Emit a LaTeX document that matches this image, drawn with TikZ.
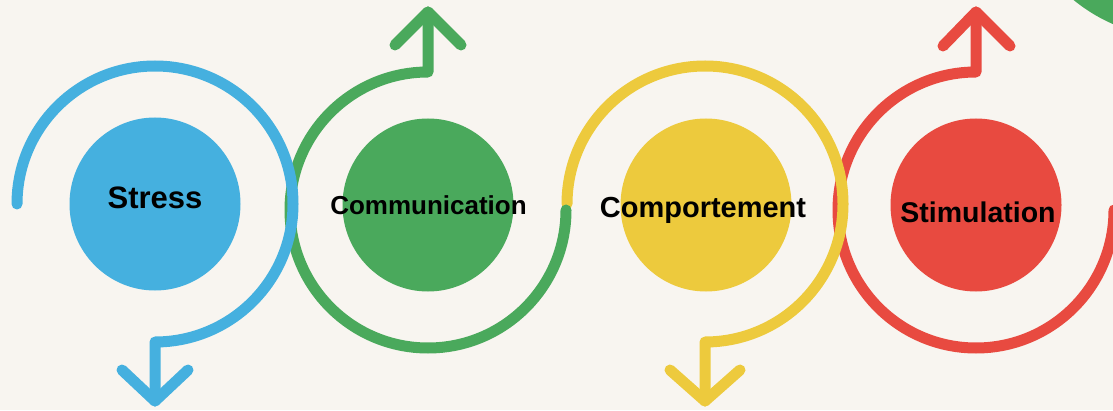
\documentclass[tikz,border=0pt]{standalone}
\usepackage{fontspec}
\setmainfont{Liberation Sans}
\usetikzlibrary{shapes.geometric}
\definecolor{bg}{HTML}{F8F5F0}
\definecolor{cblue}{HTML}{45B0DF}
\definecolor{cgreen}{HTML}{4AA95C}
\definecolor{cyellow}{HTML}{EDCA3D}
\definecolor{cred}{HTML}{E84A40}
\tikzset{
  arcline/.style={line width=11pt, line cap=round, line join=round},
  blob/.style={ellipse, draw=none, inner sep=0pt, minimum width=171pt, minimum height=173pt},
  lbl/.style={anchor=base, inner sep=0pt, font=\bfseries}
}
\begin{document}
\begin{tikzpicture}[x=1pt,y=1pt]
\useasboundingbox (0,0) rectangle (1113,410);
\fill[bg] (0,0) rectangle (1113,410);
\begin{scope}
\clip (0,0) rectangle (1113,410);
\fill[cgreen] (1180,540) circle (168);
% filled blobs
\node[blob, fill=cblue] (stress) at (155,206) {};
\node[blob, fill=cgreen] (comm) at (428,205) {};
\node[blob, fill=cyellow] (comp) at (706,205) {};
\node[blob, fill=cred] (stim) at (976,205) {};
% red
\draw[arcline,cred] (976,398) -- (976,338) arc[start angle=90,end angle=360,radius=138];
\draw[arcline,cred] (943,364) -- (976,398) -- (1010,364);
% yellow
\draw[arcline,cyellow] (567,206) arc[start angle=180,end angle=-90,radius=138] -- (705,9);
\draw[arcline,cyellow] (670,40) -- (705,9) -- (740,40);
% green
\draw[arcline,cgreen] (428,398) -- (428,338) arc[start angle=90,end angle=360,radius=138];
\draw[arcline,cgreen] (395,365) -- (428,398) -- (461,365);
% blue
\draw[arcline,cblue] (17,206) arc[start angle=180,end angle=-90,radius=138] -- (155,9);
\draw[arcline,cblue] (122,40) -- (155,9) -- (188,40);
\end{scope}
% labels
\node[lbl, font=\bfseries\fontsize{31}{31}\selectfont] (stresslbl) at (155,201) {Stress};
\node[lbl, font=\bfseries\fontsize{26}{26}\selectfont] (commlbl) at (428.5,195) {Communication};
\node[lbl, font=\bfseries\fontsize{29}{29}\selectfont] (complbl) at (703,193) {Comportement};
\node[lbl, font=\bfseries\fontsize{28.5}{28.5}\selectfont] (stimlbl) at (978,187) {Stimulation};
\end{tikzpicture}
\end{document}
